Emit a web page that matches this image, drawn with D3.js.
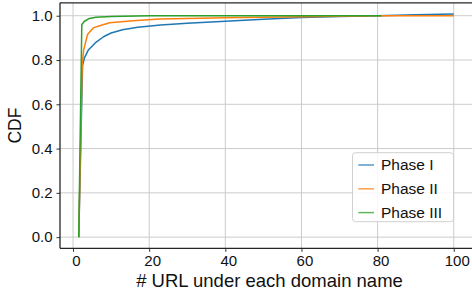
<!DOCTYPE html>
<html>
<head>
<meta charset="utf-8">
<script src="https://cdn.jsdelivr.net/npm/d3@7"></script>
<style>
  html, body { margin: 0; padding: 0; background: #fff; overflow: hidden; }
  svg { display: block; font-family: "Liberation Sans", Arial, Helvetica, sans-serif; }
</style>
</head>
<body>
<div id="chart"></div>
<script>
// ── Data ──────────────────────────────────────────────
const seriesNames = ["Phase I", "Phase II", "Phase III"];
const seriesColors = ["#1f77b4", "#ff7f0e", "#2ca02c"];

const phase1 = [
  [1.5, 0], [2.5, 0.775], [3, 0.81], [4, 0.845], [5, 0.862], [6, 0.88],
  [8, 0.905], [10, 0.922], [13, 0.937], [17, 0.948], [23, 0.958],
  [30, 0.966], [40, 0.975], [50, 0.984], [60, 0.992], [70, 0.997],
  [80, 1.0], [90, 1.004], [100, 1.008]
];
const phase2 = [
  [1.5, 0], [2.4, 0.78], [2.8, 0.846], [3.8, 0.915], [5.3, 0.945],
  [7, 0.955], [9.6, 0.968], [15.8, 0.977], [22.8, 0.985], [40, 0.991],
  [60, 0.995], [80, 1.0], [100, 1.0]
];
const phase3 = [
  [1.5, 0], [2.3, 0.96], [3, 0.975], [4.3, 0.988], [6, 0.993],
  [10, 0.997], [20, 1.0], [81, 1.0]
];
const seriesData = [phase1, phase2, phase3];

const xTicks = [0, 20, 40, 60, 80, 100];
const yTicks = [0, 0.2, 0.4, 0.6, 0.8, 1.0];

// ── Layout ────────────────────────────────────────────
const W = 472, H = 296;
const plot = { left: 60, right: 472.5, top: 2.8, bottom: 248.3 };

const svg = d3.select("#chart").append("svg")
  .attr("width", W).attr("height", H);

// matplotlib-style 5% margins around the data extent
const allPts = seriesData.flat();
const xExt = d3.extent(allPts, d => d[0]);
const yExt = d3.extent(allPts, d => d[1]);
const xPad = (xExt[1] - xExt[0]) * 0.05;
const yPad = (yExt[1] - yExt[0]) * 0.05;

const x = d3.scaleLinear()
  .domain([xExt[0] - xPad, xExt[1] + xPad])
  .range([plot.left, plot.right]);
const y = d3.scaleLinear()
  .domain([yExt[0] - yPad, yExt[1] + yPad])
  .range([plot.bottom, plot.top]);

// Grid
const grid = svg.append("g").attr("stroke", "#cbcbcb").attr("stroke-width", 1);
xTicks.forEach(t => grid.append("line")
  .attr("x1", x(t)).attr("x2", x(t))
  .attr("y1", plot.top).attr("y2", plot.bottom));
yTicks.forEach(t => grid.append("line")
  .attr("x1", plot.left).attr("x2", plot.right)
  .attr("y1", y(t)).attr("y2", y(t)));

// Lines
const line = d3.line().x(d => x(d[0])).y(d => y(d[1]));
seriesData.forEach((data, i) => {
  svg.append("path")
    .datum(data)
    .attr("fill", "none")
    .attr("stroke", seriesColors[i])
    .attr("stroke-width", 1.5)
    .attr("stroke-linejoin", "round")
    .attr("d", line);
});

// Axes
const xAxis = svg.append("g")
  .attr("transform", `translate(0,${plot.bottom})`)
  .call(d3.axisBottom(x).tickValues(xTicks).tickSize(3.5).tickPadding(4).tickFormat(d3.format("d")));
const yAxis = svg.append("g")
  .attr("transform", `translate(${plot.left},0)`)
  .call(d3.axisLeft(y).tickValues(yTicks).tickSize(3.5).tickPadding(4).tickFormat(d3.format(".1f")));

[xAxis, yAxis].forEach(ax => {
  ax.select(".domain").remove();
  ax.selectAll(".tick line").attr("stroke", "#333");
  ax.selectAll(".tick text")
    .attr("fill", "#111")
    .attr("font-size", 15)
    .attr("font-family", "Liberation Sans, Arial, sans-serif");
});
xAxis.selectAll(".tick text").attr("dx", 3);

// Spines (left, bottom, top)
const spines = svg.append("g").attr("stroke", "#262626").attr("stroke-width", 1.3);
spines.append("line").attr("x1", plot.left).attr("x2", plot.left).attr("y1", plot.top).attr("y2", plot.bottom);
spines.append("line").attr("x1", plot.left).attr("x2", plot.right).attr("y1", plot.bottom).attr("y2", plot.bottom);
spines.append("line").attr("x1", plot.left).attr("x2", plot.right).attr("y1", plot.top).attr("y2", plot.top);

// Axis labels
svg.append("text")
  .attr("x", 269.5)
  .attr("y", 287)
  .attr("text-anchor", "middle")
  .attr("font-size", 18.5)
  .attr("fill", "#111")
  .text("# URL under each domain name");

svg.append("text")
  .attr("transform", `translate(20.5,${(plot.top + plot.bottom) / 2}) rotate(-90)`)
  .attr("text-anchor", "middle")
  .attr("font-size", 17.5)
  .attr("fill", "#111")
  .text("CDF");

// Legend
const legend = svg.append("g");
legend.append("rect")
  .attr("x", 352.5).attr("y", 152.7)
  .attr("width", 101).attr("height", 69)
  .attr("rx", 3)
  .attr("fill", "#fff").attr("fill-opacity", 0.85)
  .attr("stroke", "#d0d0d0").attr("stroke-width", 1);

seriesNames.forEach((name, i) => {
  const cy = 165 + i * 23.8;
  legend.append("line")
    .attr("x1", 358.3).attr("x2", 374)
    .attr("y1", cy).attr("y2", cy)
    .attr("stroke", seriesColors[i])
    .attr("stroke-opacity", 0.75)
    .attr("stroke-width", 1.5);
  legend.append("text")
    .attr("x", 381).attr("y", cy)
    .attr("dy", "0.35em")
    .attr("font-size", 15.5)
    .attr("fill", "#111")
    .text(name);
});
</script>
</body>
</html>
